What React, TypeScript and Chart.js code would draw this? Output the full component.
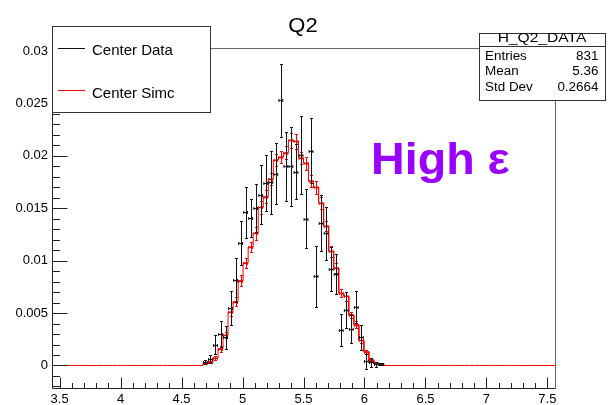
import React, { useEffect, useRef } from "react";
import { Chart, registerables } from "chart.js";

Chart.register(...registerables);

// ---- histogram binning (Q2 axis) ----
const X_MIN = 3.4375;
const X_MAX = 7.5625;
const N_BINS = 100;
const FIRST_BIN = 30; // index of first listed bin

// ---- Center Data (black) ----
const dataValues = [
  0.0003, 0.0006, 0.0020, 0.0030, 0.0027, 0.0055, 0.0082, 0.0117, 0.0146, 0.0141,
  0.0150, 0.0163, 0.0174, 0.0175, 0.0183, 0.0253, 0.0190, 0.0190, 0.0185, 0.0201,
  0.0140, 0.0205, 0.0085, 0.0136, 0.0126, 0.0092, 0.0087, 0.0034, 0.0053, 0.0035,
  0.0056, 0.0027, 0.0004, 0.0003, 0.0001, 0.0001,
];
const dataErrors = [
  0.0002, 0.0004, 0.0009, 0.0012, 0.0011, 0.0016, 0.0021, 0.0021, 0.0024, 0.0018,
  0.0023, 0.0028, 0.0027, 0.0030, 0.0029, 0.0035, 0.0033, 0.0038, 0.0026, 0.0037,
  0.0028, 0.0031, 0.0029, 0.0027, 0.0025, 0.0021, 0.0019, 0.0015, 0.0017, 0.0014,
  0.0015, 0.0012, 0.0007, 0.0004, 0.0002, 0.0001,
];

// ---- Center Simc (red) ----
const simcValues = [
  0.0002, 0.0003, 0.0007, 0.0016, 0.0029, 0.0051, 0.0061, 0.0081, 0.0098, 0.0113,
  0.0126, 0.0151, 0.0161, 0.0178, 0.0196, 0.0199, 0.0203, 0.0215, 0.0214, 0.0198,
  0.0193, 0.0176, 0.0170, 0.0155, 0.0133, 0.0109, 0.0093, 0.0069, 0.0066, 0.0048,
  0.0039, 0.0024, 0.0013, 0.0005, 0.0002, 0.0001,
];
const simcErrors = [
  0.0001, 0.0001, 0.0002, 0.0003, 0.0003, 0.0004, 0.0004, 0.0005, 0.0005, 0.0005,
  0.0006, 0.0006, 0.0006, 0.0006, 0.0006, 0.0006, 0.0006, 0.0007, 0.0007, 0.0006,
  0.0006, 0.0006, 0.0006, 0.0006, 0.0005, 0.0005, 0.0005, 0.0004, 0.0004, 0.0003,
  0.0003, 0.0003, 0.0002, 0.0001, 0.0001, 0.0001,
];

// ---- axes ----
const Y_MIN = -0.00215;
const Y_MAX = 0.0303;
const xTickValues = [3.5, 4, 4.5, 5, 5.5, 6, 6.5, 7, 7.5];
const xTickLabels = ["3.5", "4", "4.5", "5", "5.5", "6", "6.5", "7", "7.5"];
const yTickValues = [0, 0.005, 0.01, 0.015, 0.02, 0.025, 0.03];
const yTickLabels = ["0", "0.005", "0.01", "0.015", "0.02", "0.025", "0.03"];
const X_MINOR_STEP = 0.1;
const Y_MINOR_STEP = 0.001;

// ---- texts ----
const titleText = "Q2";
const legendLabels = ["Center Data", "Center Simc"];
const statsTitle = "H_Q2_DATA";
const statsNames = ["Entries", "Mean", "Std Dev"];
const statsValues = ["831", "5.36", "0.2664"];
const noteText = "High \u03b5";

const FONT = "'Liberation Sans', Arial, Helvetica, sans-serif";
const BLACK = "#111";
const RED = "#ff0000";
const BIN_W = (X_MAX - X_MIN) / N_BINS;

function fullBins(vals: number[]): number[] {
  const out: number[] = [];
  for (let k = 0; k < N_BINS; k++) {
    const i = k - FIRST_BIN;
    out.push(i >= 0 && i < vals.length ? vals[i] : 0);
  }
  return out;
}

function stepPoints(vals: number[]) {
  const all = fullBins(vals);
  const pts: { x: number; y: number }[] = [];
  all.forEach((v, k) => {
    const lo = X_MIN + k * BIN_W;
    pts.push({ x: lo, y: v });
    pts.push({ x: lo + BIN_W, y: v });
  });
  return pts;
}

function centerPoints(vals: number[]) {
  return vals.map((v, i) => ({ x: X_MIN + (FIRST_BIN + i + 0.5) * BIN_W, y: v }));
}

function drawErrors(ctx: CanvasRenderingContext2D, xs: any, ys: any, vals: number[], errs: number[], color: string) {
  ctx.strokeStyle = color;
  ctx.lineWidth = 1;
  ctx.beginPath();
  vals.forEach((v, i) => {
    const k = FIRST_BIN + i;
    const lo = X_MIN + k * BIN_W;
    const hi = lo + BIN_W;
    const c = lo + BIN_W / 2;
    const px = Math.round(xs.getPixelForValue(c)) + 0.5;
    const pl = xs.getPixelForValue(lo) + 0.6;
    const ph = xs.getPixelForValue(hi) - 0.6;
    const py = Math.round(ys.getPixelForValue(v)) + 0.5;
    const pt = Math.round(ys.getPixelForValue(v + errs[i])) + 0.5;
    const pb = Math.round(ys.getPixelForValue(v - errs[i])) + 0.5;
    ctx.moveTo(pl, py);
    ctx.lineTo(ph, py);
    ctx.moveTo(pl, py - 1.5);
    ctx.lineTo(pl, py + 1.5);
    ctx.moveTo(ph, py - 1.5);
    ctx.lineTo(ph, py + 1.5);
    ctx.moveTo(px, pt);
    ctx.lineTo(px, pb);
    ctx.moveTo(px - 1.5, pt);
    ctx.lineTo(px + 1.5, pt);
    ctx.moveTo(px - 1.5, pb);
    ctx.lineTo(px + 1.5, pb);
  });
  ctx.stroke();
}

// draws text horizontally stretched by sx (ROOT output was widened)
function stretchText(ctx: CanvasRenderingContext2D, text: string, x: number, y: number, align: CanvasTextAlign, sx: number) {
  ctx.save();
  ctx.translate(x, y);
  ctx.scale(sx, 1);
  ctx.textAlign = align;
  ctx.fillText(text, 0, 0);
  ctx.restore();
}

const rootPlugin = {
  id: "rootStyle",
  afterDatasetsDraw(chart: any) {
    const ctx: CanvasRenderingContext2D = chart.ctx;
    const ca = chart.chartArea;
    const xs = chart.scales.x;
    const ys = chart.scales.y;

    // error bars
    ctx.save();
    ctx.beginPath();
    ctx.rect(ca.left, ca.top, ca.right - ca.left, ca.bottom - ca.top);
    ctx.clip();
    drawErrors(ctx, xs, ys, simcValues, simcErrors, RED);
    drawErrors(ctx, xs, ys, dataValues, dataErrors, BLACK);
    ctx.restore();

    const L = Math.round(ca.left) + 0.5;
    const R = Math.round(ca.right) + 0.5;
    const T = Math.round(ca.top) + 0.5;
    const B = Math.round(ca.bottom) + 0.5;

    ctx.save();
    // frame top/right
    ctx.strokeStyle = "#666";
    ctx.lineWidth = 1;
    ctx.beginPath();
    ctx.moveTo(L, T);
    ctx.lineTo(R, T);
    ctx.lineTo(R, B);
    ctx.stroke();

    // axes
    ctx.strokeStyle = "#222";
    ctx.beginPath();
    ctx.moveTo(L, T);
    ctx.lineTo(L, B);
    ctx.lineTo(R, B);
    // x ticks (inward)
    const nX = Math.round((X_MAX - X_MIN) / X_MINOR_STEP) + 2;
    const xStart = Math.ceil(X_MIN / X_MINOR_STEP - 1e-6);
    for (let j = 0; j < nX; j++) {
      const v = (xStart + j) * X_MINOR_STEP;
      if (v < X_MIN || v > X_MAX) continue;
      const major = xTickValues.some((t) => Math.abs(t - v) < 1e-6);
      const px = Math.round(xs.getPixelForValue(v)) + 0.5;
      ctx.moveTo(px, B);
      ctx.lineTo(px, B - (major ? 11 : 5.5));
    }
    // y ticks (inward)
    const yStart = Math.ceil(Y_MIN / Y_MINOR_STEP - 1e-6);
    const nY = Math.round((Y_MAX - Y_MIN) / Y_MINOR_STEP) + 2;
    for (let j = 0; j < nY; j++) {
      const v = (yStart + j) * Y_MINOR_STEP;
      if (v < Y_MIN || v > Y_MAX) continue;
      const major = yTickValues.some((t) => Math.abs(t - v) < 1e-7);
      const py = Math.round(ys.getPixelForValue(v)) + 0.5;
      ctx.moveTo(L, py);
      ctx.lineTo(L + (major ? 15 : 7.5), py);
    }
    ctx.stroke();

    // title
    ctx.fillStyle = "#000";
    ctx.font = `20px ${FONT}`;
    ctx.textBaseline = "alphabetic";
    stretchText(ctx, titleText, 303, 31.5, "center", 1.1);

    // legend box
    const lgL = L, lgT = 26.5, lgR = 210.5, lgB = 112.5;
    ctx.fillStyle = "#fff";
    ctx.fillRect(lgL, lgT, lgR - lgL, lgB - lgT);
    ctx.strokeStyle = "#333";
    ctx.strokeRect(lgL, lgT, lgR - lgL, lgB - lgT);
    const lgColors = [BLACK, RED];
    const lgLineY = [48.5, 90.5];
    const lgTextY = [55, 97.5];
    ctx.font = `15px ${FONT}`;
    legendLabels.forEach((lab, i) => {
      ctx.strokeStyle = lgColors[i];
      ctx.beginPath();
      ctx.moveTo(58, lgLineY[i]);
      ctx.lineTo(85, lgLineY[i]);
      ctx.stroke();
      ctx.fillStyle = "#000";
      stretchText(ctx, lab, 92, lgTextY[i], "left", 1.0);
    });

    // stats box
    const sL = 479.5, sT = 33.5, sR = 605.5, sB = 100.5;
    ctx.fillStyle = "#fff";
    ctx.fillRect(sL, sT, sR - sL, sB - sT);
    ctx.strokeStyle = "#333";
    ctx.strokeRect(sL, sT, sR - sL, sB - sT);
    ctx.beginPath();
    ctx.moveTo(sL, 46.5);
    ctx.lineTo(sR, 46.5);
    ctx.stroke();
    ctx.fillStyle = "#000";
    ctx.font = `13px ${FONT}`;
    stretchText(ctx, statsTitle, 542, 42, "center", 1.2);
    ctx.font = `12px ${FONT}`;
    statsNames.forEach((n, i) => {
      const yy = 59.5 + i * 15.7;
      stretchText(ctx, n, 485, yy, "left", 1.12);
      stretchText(ctx, statsValues[i], 598.5, yy, "right", 1.12);
    });

    // note
    ctx.fillStyle = "#9900ff";
    ctx.font = `bold 44px ${FONT}`;
    stretchText(ctx, noteText, 371, 173.5, "left", 1.06);
    ctx.restore();
  },
};

export default function App() {
  const ref = useRef<HTMLCanvasElement>(null);
  useEffect(() => {
    document.body.style.margin = "0";
    const canvas = ref.current;
    if (!canvas) return;
    const chart = new Chart(canvas, {
      type: "line",
      data: {
        datasets: [
          {
            label: legendLabels[1],
            data: stepPoints(simcValues),
            borderColor: RED,
            borderWidth: 1,
            pointRadius: 0,
            fill: false,
            tension: 0,
          },
          {
            label: legendLabels[0],
            type: "scatter",
            data: centerPoints(dataValues),
            borderColor: BLACK,
            backgroundColor: BLACK,
            pointRadius: 0,
            showLine: false,
          } as any,
        ],
      },
      options: {
        responsive: false,
        devicePixelRatio: 1,
        animation: false,
        layout: { padding: { left: 0, right: 56, top: 48, bottom: 0 } },
        plugins: {
          legend: { display: false },
          tooltip: { enabled: false },
          title: { display: false },
        },
        scales: {
          x: {
            type: "linear",
            min: X_MIN,
            max: X_MAX,
            grid: { display: false, drawTicks: false },
            border: { display: false },
            afterBuildTicks: (s: any) => {
              s.ticks = xTickValues.map((v) => ({ value: v }));
            },
            afterFit: (s: any) => {
              s.height = 17;
            },
            ticks: {
              autoSkip: false,
              maxRotation: 0,
              padding: 4,
              color: "#000",
              font: { family: FONT, size: 13 },
              callback: (_v: any, i: number) => xTickLabels[i],
            },
          },
          y: {
            type: "linear",
            min: Y_MIN,
            max: Y_MAX,
            grid: { display: false, drawTicks: false },
            border: { display: false },
            afterBuildTicks: (s: any) => {
              s.ticks = yTickValues.map((v) => ({ value: v }));
            },
            afterFit: (s: any) => {
              s.width = 52;
            },
            ticks: {
              autoSkip: false,
              padding: 4,
              color: "#000",
              font: { family: FONT, size: 13 },
              callback: (_v: any, i: number) => yTickLabels[i],
            },
          },
        },
      },
      plugins: [rootPlugin],
    });
    return () => chart.destroy();
  }, []);
  return (
    <div style={{ position: "relative", width: 611, height: 405, background: "#fff" }}>
      <canvas ref={ref} width={611} height={405} style={{ display: "block", width: 611, height: 405 }} />
    </div>
  );
}
